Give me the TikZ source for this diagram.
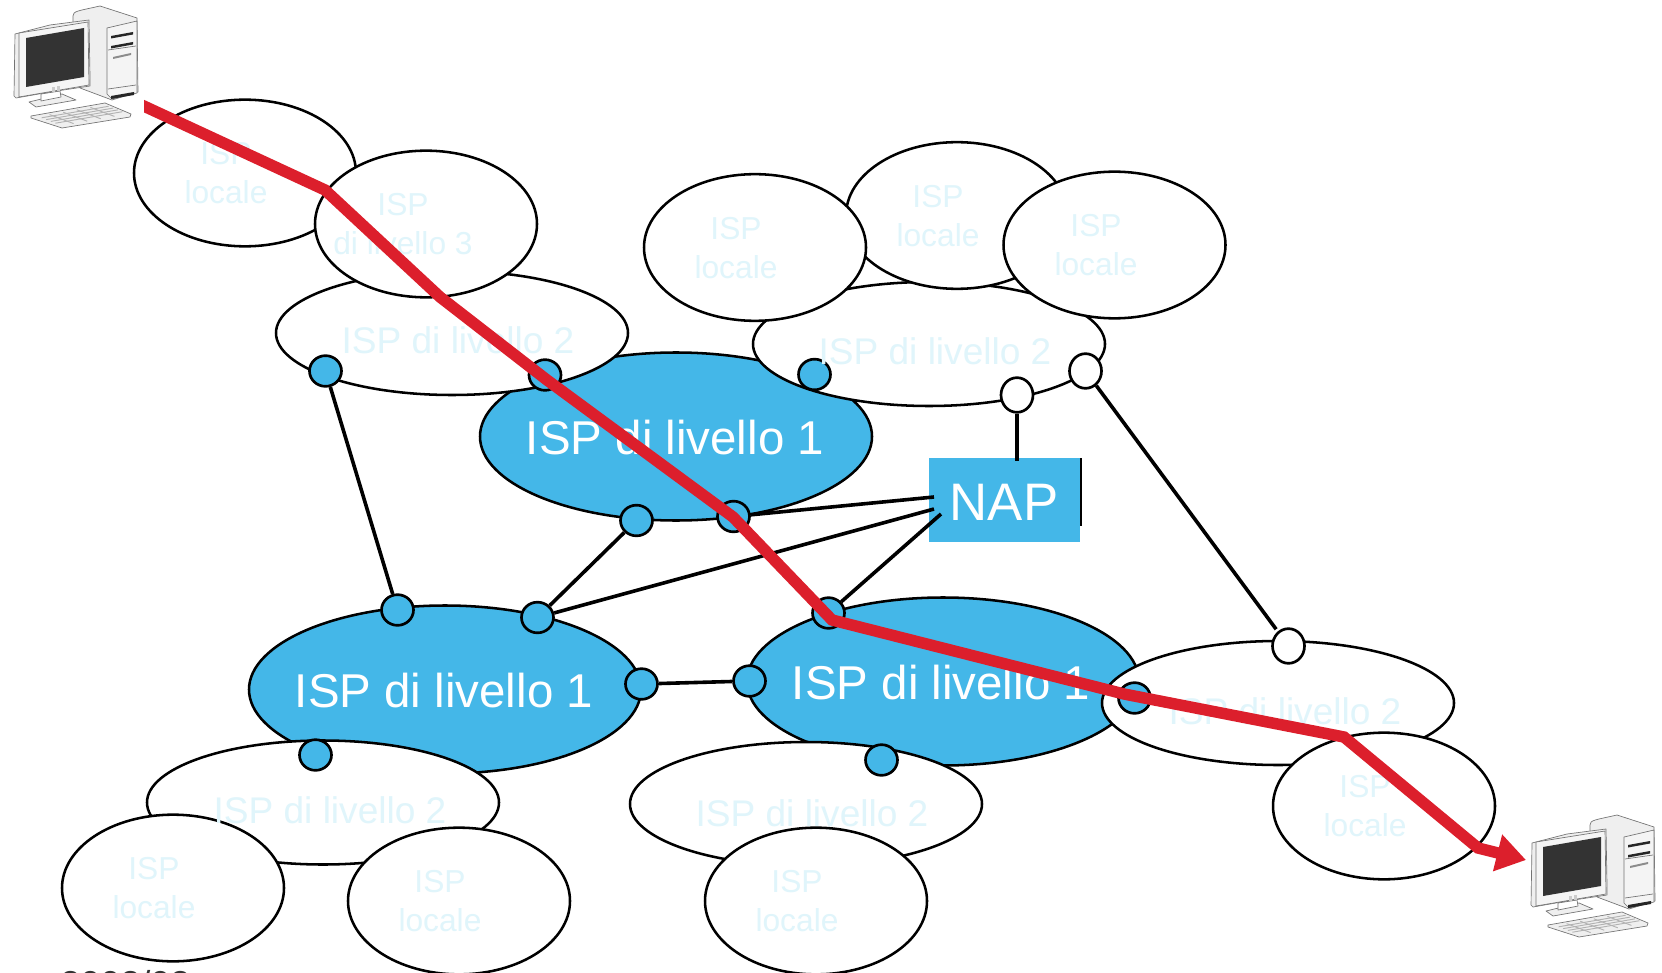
\documentclass[tikz,border=0pt]{standalone}
\usepackage{fontspec}
\setmainfont{Liberation Sans}
\usetikzlibrary{shapes.geometric,arrows.meta,calc}
\definecolor{ispblue}{HTML}{44B7E8}
\definecolor{ispred}{HTML}{DC1F2C}
\definecolor{pale}{HTML}{E0F5FB}
\definecolor{pcbody}{HTML}{EFEFEF}
\definecolor{pcdark}{HTML}{333333}
\tikzset{
  blob/.style={ellipse,draw=black,line width=1.9pt,inner sep=0pt},
  localblob/.style={blob,fill=white,minimum width=166.5pt,minimum height=110pt},
  levtwo/.style={blob,fill=white,minimum width=264pt,minimum height=93pt},
  levone/.style={blob,fill=ispblue,minimum width=294pt,minimum height=126pt},
  palelabel/.style={text=pale,font=\fontsize{23.8}{29}\selectfont,align=center,inner sep=0pt},
  palelabeltwo/.style={text=pale,font=\fontsize{27.8}{32}\selectfont,inner sep=0pt},
  whitelabel/.style={text=white,font=\fontsize{35.6}{40}\selectfont,inner sep=0pt},
  port/.style={ellipse,draw=black,line width=2pt,fill=ispblue,minimum width=24pt,minimum height=23pt,inner sep=0pt},
  wport/.style={port,fill=white,minimum height=26pt},
  link/.style={line width=2.7pt,black},
  pcline/.style={draw=black!55,line width=0.5pt,line join=round},
  computer/.pic={
    % tower
    \path[pcline,fill=pcbody] (73,16) .. controls (73,11) and (78,11) .. (100,6) -- (137,18) -- (138,92) -- (112,100) -- (80,88) -- (73,80) -- cycle;
    \path[pcline,fill=pcbody!70!white] (107,28) -- (137,21) -- (137,93) -- (112,99) -- (107,94) -- cycle;
    \fill[black!85] (111,36) -- (133,32) -- (133,34.5) -- (111,38.5) -- cycle;
    \fill[black!85] (111,46) -- (133,42) -- (133,44.5) -- (111,48.5) -- cycle;
    \fill[black!45] (113,57) -- (131,53) -- (131,55) -- (113,59) -- cycle;
    \draw[pcline] (108,50) -- (136,46);
    \draw[pcline] (108,89) -- (136,85);
    \fill[black!85] (111,96) -- (134,92) -- (134,95) -- (111,99) -- cycle;
    % keyboard
    \path[pcline,fill=pcbody] (31,116) -- (105,103) -- (131,114) -- (130,117) -- (62,128) -- (31,118) -- cycle;
    \foreach \t in {0.2,0.4,0.6,0.8}{
      \draw[black!30,line width=0.7pt] ($(36,117)!\t!(104,105)$) -- ++(24,9);
      \draw[black!30,line width=0.7pt] ($(37,116)!\t!(60,125)$) -- ++(67,-11.5);
    }
    % stand
    \path[pcline,fill=pcbody] (29,102) -- (62,94) -- (76,100) -- (36,107) -- cycle;
    \path[pcline,fill=white] (41,94) -- (60,91) -- (61,97) -- (41,101) -- cycle;
    % monitor
    \path[pcline,fill=pcbody] (15,34) -- (50,25) -- (89,20) -- (90,76) -- (90,86) -- (50,92) -- (16,98) -- (14,96) -- cycle;
    \path[pcline,fill=pcbody!60!white] (19,33) -- (88,22) -- (89,85) -- (19,97) -- cycle;
    \fill[pcdark] (26,38) -- (84,28) -- (84,77) -- (26,87) -- cycle;
    \fill[black!20] (52,87) rectangle (55,92);
    \fill[black!20] (57,86) rectangle (60,91);
  }
}
\begin{document}
\begin{tikzpicture}[x=0.75pt,y=-0.75pt]
\useasboundingbox (0,0) rectangle (1662,973);
\clip (0,0) rectangle (1662,973);
\fill[white] (0,0) rectangle (1662,973);

% tier 1 networks
\node[levone] (tierA) at (676,436.5) {};
\node[levone] (tierB) at (445,689.5) {};
\node[levone] (tierC) at (943,681.5) {};

% access network lying behind tier 2
\node[localblob] (locA) at (245,173) {};

% tier 2 networks
\node[levtwo] (twoA) at (452,333) {};
\node[levtwo] (twoB) at (929,344) {};
\node[levtwo] (twoC) at (1278,703) {};
\node[levtwo] (twoD) at (323,802.5) {};
\node[levtwo] (twoE) at (806,804) {};

% access networks in front
\node[localblob] (treA) at (426,224) {};
\node[localblob] (locC) at (957,215.5) {};
\node[localblob] (locB) at (755,247.5) {};
\node[localblob] (locD) at (1114.5,245) {};
\node[localblob] (locE) at (1384,806) {};
\node[localblob] (locF) at (173,888) {};
\node[localblob] (locG) at (459,901) {};
\node[localblob] (locH) at (816,901) {};

% NAP
\node[fill=ispblue,minimum width=113pt,minimum height=63pt,inner sep=0pt] (nap) at (1004.5,500) {};
\coordinate (napEdge) at (1081,458);
\coordinate (napEdgeEnd) at (1081,526);
\draw[line width=1.4pt,black] (napEdge) -- (napEdgeEnd);
\coordinate (napA) at (934,497);
\coordinate (napB) at (934,509);
\coordinate (napC) at (941,514);
\coordinate (napD) at (1017,461);

% ports
\node[port] (pa) at (325.5,371) {};
\node[port] (pb) at (545,375) {};
\node[port] (pc) at (814.5,374.5) {};
\node[wport] (pd) at (1017,395) {};
\node[wport] (pe) at (1085.5,371) {};
\node[port] (pf) at (636.5,520.5) {};
\node[port] (pg) at (733.5,516.5) {};
\node[port] (ph) at (397.5,610) {};
\node[port] (pi) at (537.5,617.5) {};
\node[port] (pj) at (641.5,684) {};
\node[port] (pk) at (749.5,681) {};
\node[port] (pl) at (828.5,613) {};
\node[port] (pm) at (1134.5,698) {};
\node[wport] (pn) at (1288.5,646) {};
\node[port] (po) at (315.5,755) {};
\node[port] (pp) at (881.5,760) {};

% links
\draw[link] (pa) -- (ph);
\draw[link] (pf) -- (pi);
\draw[link] (pi) -- (napB);
\draw[link] (pg) -- (napA);
\draw[link] (pl) -- (napC);
\draw[link] (pd) -- (napD);
\draw[link,shorten >=2pt] (pe) -- (pn);
\draw[link] (pj) -- (pk);

% labels
\node[palelabel] (tA) at (226,173) {ISP\\locale};
\node[palelabel] (tB) at (403,224) {ISP\\di livello 3};
\node[palelabel] (tC) at (736,248) {ISP\\locale};
\node[palelabel] (tD) at (938,216) {ISP\\locale};
\node[palelabel] (tE) at (1096,245) {ISP\\locale};
\node[palelabel] (tF) at (1365,806) {ISP\\locale};
\node[palelabel] (tG) at (154,888) {ISP\\locale};
\node[palelabel] (tH) at (440,901) {ISP\\locale};
\node[palelabel] (tI) at (797,901) {ISP\\locale};
\node[palelabeltwo] (uA) at (458,340) {ISP di livello 2};
\node[palelabeltwo] (uB) at (935,351) {ISP di livello 2};
\node[palelabeltwo] (uC) at (1285,711) {ISP di livello 2};
\node[palelabeltwo] (uD) at (330,810) {ISP di livello 2};
\node[palelabeltwo] (uE) at (812,813) {ISP di livello 2};
\node[whitelabel] (vA) at (675,438) {ISP di livello 1};
\node[whitelabel] (vB) at (444,691) {ISP di livello 1};
\node[whitelabel] (vC) at (941,683) {ISP di livello 1};
\node[text=white,font=\fontsize{39.6}{42}\selectfont,inner sep=0pt] (napT) at (1004,502) {NAP};

% computers
\pic (pcA) at (0,0) {computer};
\pic (pcB) at (1517,809) {computer};

% route
\coordinate (r0) at (134,101.5);
\coordinate (r1) at (325,190);
\coordinate (r2) at (440,297);
\coordinate (r3) at (547,380);
\coordinate (r4) at (733,517);
\coordinate (r5) at (832,620);
\coordinate (r6) at (1124,694);
\coordinate (r7) at (1344,737);
\coordinate (r8) at (1478,848);
\coordinate (r9) at (1526,860);
\begin{scope}
\clip (144,0) rectangle (1662,973);
\draw[ispred,line width=8.6pt,-{Triangle[length=22pt,width=27pt]}] (r0) -- (r1) -- (r2) -- (r3) -- (r4) -- (r5) -- (r6) -- (r7) -- (r8) -- (r9);
\end{scope}

% text cut by the lower edge
\node[anchor=base west,text=pcdark,font=\fontsize{27}{30}\selectfont,inner sep=0pt] (year) at (60,996) {2002/03};
\end{tikzpicture}
\end{document}
